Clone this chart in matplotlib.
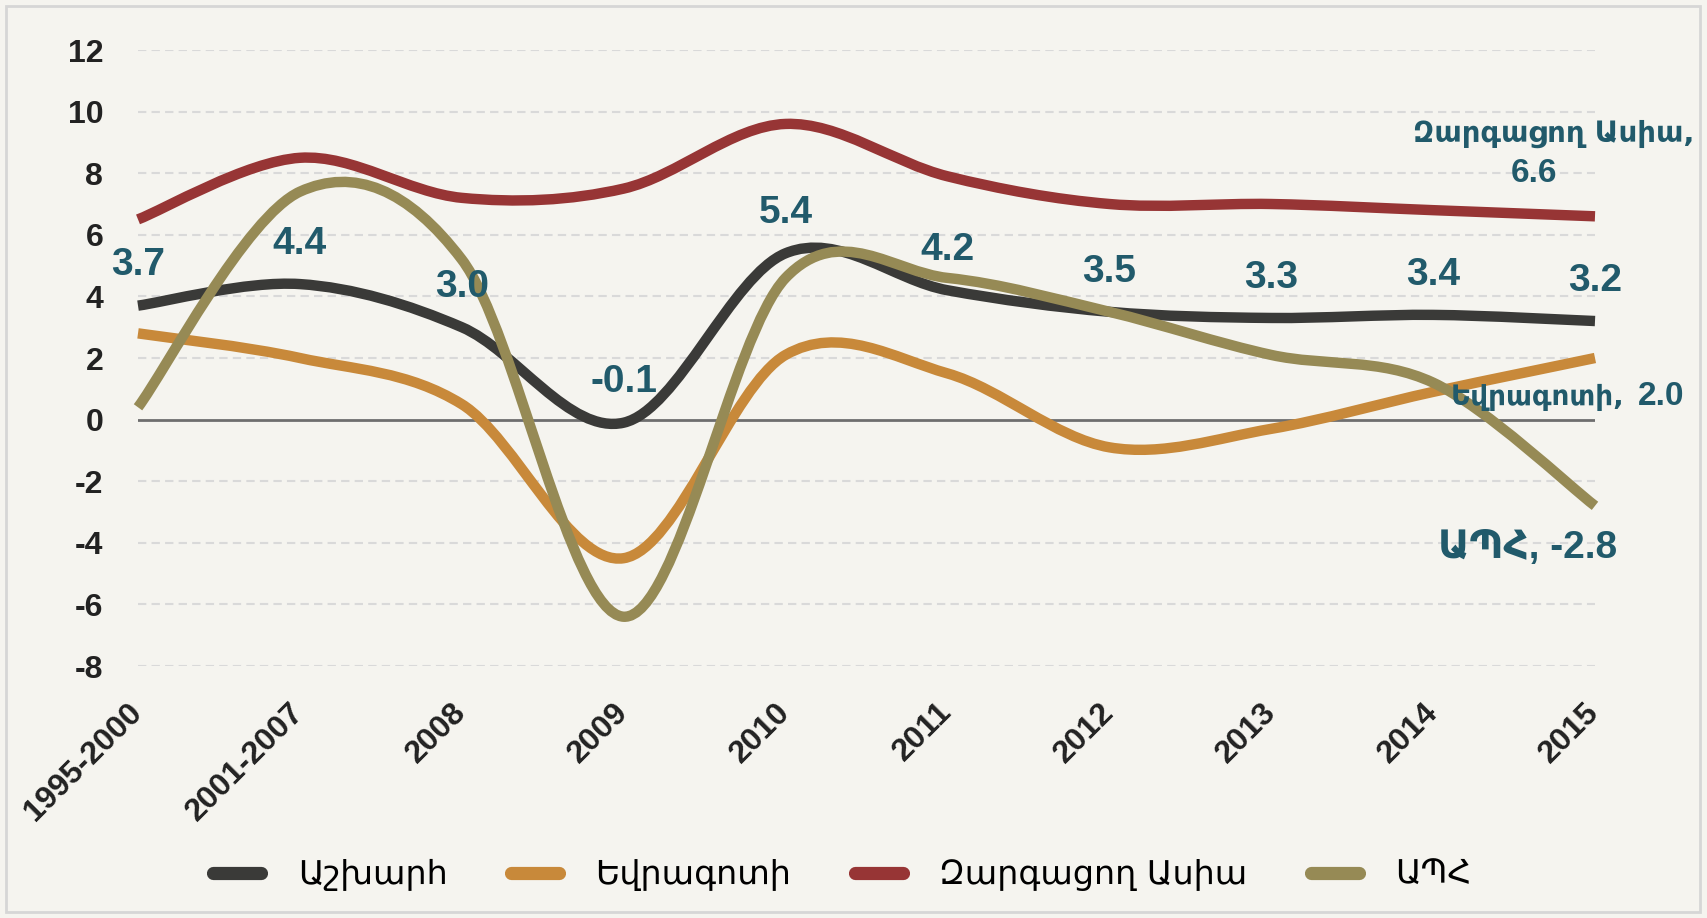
import matplotlib
matplotlib.use("Agg")
import matplotlib.pyplot as plt
from matplotlib import font_manager
from matplotlib.path import Path
from matplotlib.patches import PathPatch, Rectangle
from matplotlib.lines import Line2D

categories = ["1995-2000", "2001-2007", "2008", "2009", "2010",
              "2011", "2012", "2013", "2014", "2015"]
world = [3.7, 4.4, 3.0, -0.1, 5.4, 4.2, 3.5, 3.3, 3.4, 3.2]
eurozone = [2.8, 2.0, 0.5, -4.5, 2.1, 1.5, -0.9, -0.3, 0.9, 2.0]
dev_asia = [6.5, 8.5, 7.2, 7.5, 9.6, 7.9, 7.0, 7.0, 6.8, 6.6]
cis = [0.4, 7.4, 5.2, -6.4, 4.6, 4.6, 3.5, 2.1, 1.2, -2.8]
series_names = ["Աշխարհ", "Եվրագոտի", "Զարգացող Ասիա", "ԱՊՀ"]
yticks = [-8, -6, -4, -2, 0, 2, 4, 6, 8, 10, 12]

colors = ["#3a3a38", "#c8893a", "#973535", "#968a55"]
label_color = "#215a6b"
bg = "#f5f4ef"

installed = {f.name for f in font_manager.fontManager.ttflist}
num_font = "Liberation Sans" if "Liberation Sans" in installed else "DejaVu Sans"
plt.rcParams["font.family"] = [num_font, "DejaVu Sans"]
plt.rcParams["axes.unicode_minus"] = False


def smooth_path(ys):
    # Excel-like smoothed line: Catmull-Rom segments as cubic Bezier curves
    pts = list(enumerate(ys))
    n = len(pts)
    verts = [pts[0]]
    codes = [Path.MOVETO]
    for i in range(n - 1):
        p0 = pts[i - 1] if i > 0 else pts[i]
        p1, p2 = pts[i], pts[i + 1]
        p3 = pts[i + 2] if i + 2 < n else pts[i + 1]
        c1 = (p1[0] + (p2[0] - p0[0]) / 6, p1[1] + (p2[1] - p0[1]) / 6)
        c2 = (p2[0] - (p3[0] - p1[0]) / 6, p2[1] - (p3[1] - p1[1]) / 6)
        verts += [c1, c2, p2]
        codes += [Path.CURVE4] * 3
    return Path(verts, codes)


W, H = 1707, 918
fig = plt.figure(figsize=(W / 100, H / 100), dpi=100, facecolor=bg)
ax = fig.add_axes([138 / W, 1 - 666 / H, (1595 - 138) / W, (666 - 50) / H])
ax.set_facecolor(bg)

for s in ax.spines.values():
    s.set_visible(False)

ax.set_xlim(0, len(categories) - 1)
ax.set_ylim(-8, 12)
ax.set_yticks(yticks)
ax.set_yticklabels([str(t) for t in yticks], fontsize=23, fontweight="bold",
                   color="#222222")
ax.set_xticks(range(len(categories)))
ax.set_xticklabels(categories, rotation=45, ha="right", va="center",
                   rotation_mode="anchor", fontsize=23, fontweight="bold",
                   color="#222222")
ax.tick_params(axis="y", length=0, pad=25)
ax.tick_params(axis="x", length=0, pad=30)

for t in yticks:
    if t != 0:
        ax.axhline(t, color="#d9d9d9", lw=1.5, ls=(0, (4, 2.5)), zorder=1)
ax.axhline(0, color="#6e6e6e", lw=2, zorder=2)

for ys, c in zip([world, eurozone, dev_asia, cis], colors):
    ax.add_patch(PathPatch(smooth_path(ys), facecolor="none", edgecolor=c,
                           lw=7.5, capstyle="butt", joinstyle="round",
                           zorder=3, clip_on=False))

for i, v in enumerate(world):
    ax.annotate(f"{v:.1f}", (i, v), xytext=(0, 29), textcoords="offset points",
                ha="center", va="center", fontsize=28, fontweight="bold",
                color=label_color, zorder=5)

last = len(categories) - 1
end_style = dict(textcoords="offset points", va="baseline",
                 fontweight="bold", color=label_color, annotation_clip=False)
ax.annotate(f"{series_names[2]},", (last, dev_asia[-1]), xytext=(-30, 53.5),
            ha="center", fontsize=21, family="DejaVu Sans", **end_style)
ax.annotate(f"{dev_asia[-1]:.1f}", (last, dev_asia[-1]), xytext=(-44, 24.5),
            ha="center", fontsize=24, **end_style)
ax.annotate(f"{series_names[1]},", (last, eurozone[-1]), xytext=(-104, -34),
            ha="left", fontsize=20, family="DejaVu Sans", **end_style)
ax.annotate(f"{eurozone[-1]:.1f}", (last, eurozone[-1]), xytext=(31, -34),
            ha="left", fontsize=24, **end_style)
ax.annotate(f"{series_names[3]}, {cis[-1]:.1f}", (last, cis[-1]),
            xytext=(-48.5, -37.5), ha="center", fontsize=28, **end_style)

handles = [Line2D([], [], color=c, lw=9.5, solid_capstyle="round") for c in colors]
fig.legend(handles, series_names, loc="center", bbox_to_anchor=(0.4935, 0.047),
           ncol=4, frameon=False, handlelength=1.44, handletextpad=1.1,
           columnspacing=1.9, prop={"family": "DejaVu Sans", "size": 24})

fig.add_artist(Rectangle((6 / W, 6 / H), 1 - 13 / W, 1 - 12 / H,
                         transform=fig.transFigure, fill=False,
                         edgecolor="#d6d6d6", lw=2))

fig.savefig("out.png", dpi=100, facecolor=bg)
